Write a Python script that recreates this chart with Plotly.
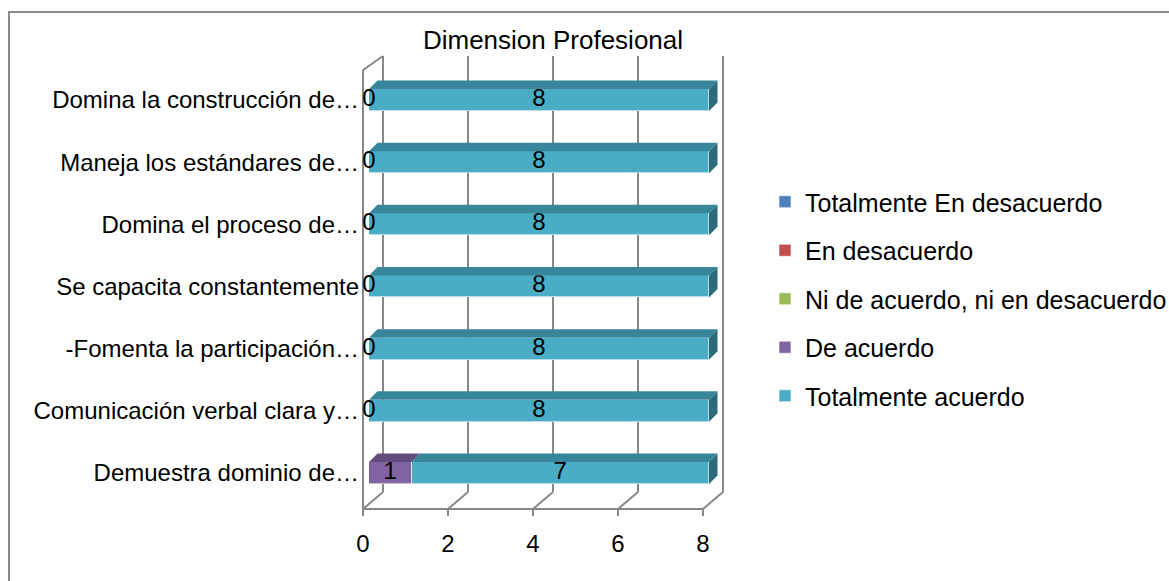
import plotly.graph_objects as go

# ---------------- data ----------------
categorias = [
    "Demuestra dominio de…",
    "Comunicación verbal clara y…",
    "-Fomenta la participación…",
    "Se capacita constantemente",
    "Domina el proceso de…",
    "Maneja los estándares de…",
    "Domina la construcción de…",
]
series_nombres = [
    "Totalmente En desacuerdo",
    "En desacuerdo",
    "Ni de acuerdo, ni en desacuerdo",
    "De acuerdo",
    "Totalmente acuerdo",
]
tot_desacuerdo = [0, 0, 0, 0, 0, 0, 0]
en_desacuerdo = [0, 0, 0, 0, 0, 0, 0]
ni_ni = [0, 0, 0, 0, 0, 0, 0]
de_acuerdo = [1, 0, 0, 0, 0, 0, 0]
tot_acuerdo = [7, 8, 8, 8, 8, 8, 8]
x_ticks = [0, 2, 4, 6, 8]
x_ticktext = ["0", "2", "4", "6", "8"]
titulo = "Dimension Profesional"

valores = [tot_desacuerdo, en_desacuerdo, ni_ni, de_acuerdo, tot_acuerdo]
con_etiqueta = [False, False, False, True, True]

# ---------------- style ----------------
front = ["#4F81BD", "#C0504D", "#9BBB59", "#8064A2", "#4BACC6"]
top = ["#3C6494", "#963D3A", "#789346", "#624C7E", "#37869B"]
side = ["#2F4F75", "#76302E", "#5F7437", "#4D3C63", "#2C6B7B"]
FONT = "Liberation Sans, Arial, sans-serif"
GRAY = "#878787"

W, H = 1169, 581
L, R, T, B = 358, 740, 50, 520
PX_X = 42.5   # px per x unit
PX_Y = 62.17  # px per category
X0_PX = 369   # px of x=0 (bar front face)
Y0_PX = 473   # px of first category centre
xr = [(L - X0_PX) / PX_X, (R - X0_PX) / PX_X]
yr = [(Y0_PX - B) / PX_Y, (Y0_PX - T) / PX_Y]

bar_w = 22 / PX_Y
ddx, ddy = 8.5 / PX_X, 8.5 / PX_Y  # bar depth
pos = list(range(len(categorias)))

fig = go.Figure()
for k, (nombre, vals) in enumerate(zip(series_nombres, valores)):
    fig.add_trace(go.Bar(
        y=pos, x=vals, orientation="h", name=nombre, width=bar_w,
        marker=dict(color=front[k], line=dict(color="rgba(255,255,255,0.6)", width=1)),
        legendgroup=nombre, hoverinfo="x+name",
    ))

# labels and 3D faces
shapes = []
base = [0] * len(categorias)
for k, vals in enumerate(valores):
    lx, ly, lt = [], [], []
    for i, v in enumerate(vals):
        x0, x1 = base[i], base[i] + v
        yc = pos[i]
        if v > 0:
            yt = yc + bar_w / 2
            shapes.append(dict(type="path", xref="x", yref="y", layer="above",
                               path=f"M{x0},{yt} L{x1},{yt} L{x1+ddx},{yt+ddy} L{x0+ddx},{yt+ddy} Z",
                               fillcolor=top[k], line=dict(width=0)))
        if con_etiqueta[k]:
            lx.append((x0 + x1) / 2)
            ly.append(yc)
            lt.append(str(v))
    if con_etiqueta[k]:
        fig.add_trace(go.Scatter(x=lx, y=ly, text=lt, mode="text", showlegend=False,
                                 textfont=dict(family=FONT, size=24, color="black"),
                                 hoverinfo="skip"))
    base = [b + v for b, v in zip(base, vals)]

# right side faces at bar ends
for i, tot in enumerate(base):
    kk = max(k for k in range(len(valores)) if valores[k][i] > 0)
    yb, yt = pos[i] - bar_w / 2, pos[i] + bar_w / 2
    shapes.append(dict(type="path", xref="x", yref="y", layer="above",
                       path=f"M{tot},{yb} L{tot},{yt} L{tot+ddx},{yt+ddy} L{tot+ddx},{yb+ddy} Z",
                       fillcolor=side[kk], line=dict(width=0)))

# 3D frame (walls and floor)
f_off = -6 / PX_X      # floor front offset from bar front
b_off = 14 / PX_X      # back wall offset
y_floor_f = (Y0_PX - 509) / PX_Y
y_floor_b = (Y0_PX - 492) / PX_Y
y_top_b = (Y0_PX - 56) / PX_Y
y_top_f = (Y0_PX - 70) / PX_Y
y_tick = (Y0_PX - 516) / PX_Y
ln = dict(color=GRAY, width=2)
for t in x_ticks:
    shapes.append(dict(type="line", xref="x", yref="y", layer="below",
                       x0=t + b_off, x1=t + b_off, y0=y_floor_b, y1=y_top_b, line=ln))
    shapes.append(dict(type="line", xref="x", yref="y", layer="below",
                       x0=t + f_off, x1=t + b_off, y0=y_floor_f, y1=y_floor_b, line=ln))
    shapes.append(dict(type="line", xref="x", yref="y", layer="below",
                       x0=t + f_off, x1=t + f_off, y0=y_floor_f, y1=y_tick, line=ln))
xmin, xmax = x_ticks[0], x_ticks[-1]
shapes.append(dict(type="line", xref="x", yref="y", layer="below",
                   x0=xmin + f_off, x1=xmax + f_off, y0=y_floor_f, y1=y_floor_f, line=ln))
shapes.append(dict(type="line", xref="x", yref="y", layer="below",
                   x0=xmin + f_off, x1=xmin + f_off, y0=y_floor_f, y1=y_top_f, line=ln))
shapes.append(dict(type="line", xref="x", yref="y", layer="below",
                   x0=xmin + f_off, x1=xmin + b_off, y0=y_top_f, y1=y_top_b, line=ln))

# outer chart border
pw, ph = R - L, B - T
shapes.append(dict(type="rect", xref="paper", yref="paper", layer="below",
                   x0=(9 - L) / pw, x1=(W + 10 - L) / pw,
                   y0=(B - (H + 10)) / ph, y1=(B - 12) / ph,
                   line=dict(color="#8C8C8C", width=2), fillcolor="rgba(0,0,0,0)"))

fig.update_layout(
    width=W, height=H, autosize=False,
    margin=dict(l=L, r=W - R, t=T, b=H - B, pad=0),
    paper_bgcolor="white", plot_bgcolor="white",
    barmode="stack", bargap=0,
    font=dict(family=FONT, size=24, color="black"),
    title=dict(text=titulo, font=dict(family=FONT, size=26, color="black"),
               x=553 / W, xanchor="center", y=1 - 40 / H, yanchor="middle",
               xref="container", yref="container"),
    xaxis=dict(range=xr, showgrid=False, zeroline=False, showline=False,
               tickvals=x_ticks, ticktext=x_ticktext, ticks="", ticklabelshift=-6,
               ticklabelstandoff=7,
               tickfont=dict(family=FONT, size=24, color="black")),
    yaxis=dict(range=yr, showgrid=False, zeroline=False, showline=False,
               tickvals=pos, ticktext=categorias, ticks="", ticklabelstandoff=-2,
               tickfont=dict(family=FONT, size=24, color="black")),
    legend=dict(xref="container", yref="container", x=765 / W, xanchor="left",
                y=1 - 179 / H, yanchor="top", traceorder="grouped", tracegroupgap=13,
                font=dict(family=FONT, size=25, color="black"), bgcolor="rgba(0,0,0,0)"),
    shapes=shapes,
    showlegend=True,
)

fig.write_html("out.html")
